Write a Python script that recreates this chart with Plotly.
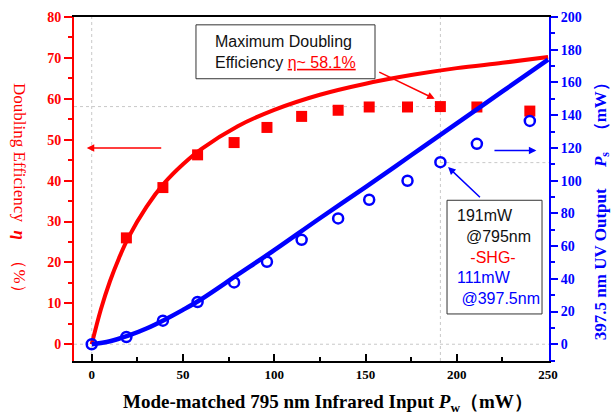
import plotly.graph_objects as go

# ---- data ----
pump_mw = [19, 39, 58, 78, 96, 115, 135, 152, 173, 191, 211, 240]
efficiency_pct = [26, 38.3, 46.3, 49.3, 53, 55.7, 57.2, 58, 58, 58.1, 58, 57]

uv_pump_mw = [0, 19, 39, 58, 78, 96, 115, 135, 152, 173, 191, 211, 240]
uv_output_mw = [0, 4.4, 14.4, 25.8, 37.8, 50.4, 63.8, 76.9, 88.3, 99.9, 111.3, 122.5, 136.5]

eff_fit_x = [0, 5, 10, 15, 20, 30, 40, 50, 60, 80, 100, 125, 150, 175, 200, 225, 250]
eff_fit_y = [0, 8.5, 15.4, 21.1, 26, 33.6, 39.5, 44.0, 47.7, 53.3, 57.3, 61.0, 63.7, 65.8, 67.5, 68.8, 70.2]

uv_fit_x = [0, 10, 20, 30, 40, 50, 60, 80, 100, 125, 150, 175, 200, 225, 250]
uv_fit_y = [0, 1.8, 5.2, 9.6, 15, 21, 27.5, 42.5, 57.5, 77, 96, 115.5, 135, 154.5, 174]

max_pump = 191
max_eff = 58.1
max_uv = 111

x_ticks = [0, 50, 100, 150, 200, 250]
left_ticks = [0, 10, 20, 30, 40, 50, 60, 70, 80]
right_ticks = [0, 20, 40, 60, 80, 100, 120, 140, 160, 180, 200]

RED = "#ff0000"
BLUE = "#0000ff"
SERIF = "Liberation Serif"
SANS = "Liberation Sans"

fig = go.Figure()
fig.add_trace(go.Scatter(x=eff_fit_x, y=eff_fit_y, mode="lines",
                         line=dict(color=RED, width=4, shape="spline"), yaxis="y"))
fig.add_trace(go.Scatter(x=pump_mw, y=efficiency_pct, mode="markers",
                         marker=dict(symbol="square", size=11, color=RED), yaxis="y"))
fig.add_trace(go.Scatter(x=uv_fit_x, y=uv_fit_y, mode="lines",
                         line=dict(color=BLUE, width=4.5, shape="spline"), yaxis="y2"))
fig.add_trace(go.Scatter(x=uv_pump_mw, y=uv_output_mw, mode="markers",
                         marker=dict(symbol="circle-open", size=10, color=BLUE,
                                     line=dict(width=2.5, color=BLUE)), yaxis="y2"))

dot = dict(color="#c8c8c8", width=1, dash="dot")
shapes = [
    dict(type="line", xref="x", yref="paper", x0=0, x1=0, y0=0, y1=1, line=dot, layer="below"),
    dict(type="line", xref="paper", yref="y", x0=0, x1=1, y0=0, y1=0, line=dot, layer="below"),
    dict(type="line", xref="x", yref="paper", x0=max_pump, x1=max_pump, y0=0, y1=1, line=dot, layer="below"),
    dict(type="line", xref="paper", yref="y", x0=0, x1=(max_pump + 9.7) / 260.2, y0=max_eff, y1=max_eff,
         line=dot, layer="below"),
    dict(type="line", xref="x", yref="y2", x0=max_pump, x1=250.5, y0=max_uv, y1=max_uv, line=dot, layer="below"),
    # annotation boxes
    dict(type="rect", xref="paper", yref="paper", x0=0.2568, x1=0.6337, y0=0.8205, y1=0.9772,
         line=dict(color="#333333", width=1), fillcolor="white", layer="above"),
    dict(type="rect", xref="paper", yref="paper", x0=0.7853, x1=0.9853, y0=(361 - 313) / 351, y1=(361 - 197) / 351,
         line=dict(color="#333333", width=1), fillcolor="white", layer="above"),
]

nb = "\u00a0"
annotations = [
    dict(xref="paper", yref="paper", x=0.2926, y=0.8989, xanchor="left", yanchor="middle",
         align="left", showarrow=False,
         text="Maximum Doubling<br>Efficiency <span style='color:#ff0000'><u>η~ 58.1%</u></span>",
         font=dict(family=SANS, size=16, color="#111111")),
    dict(xref="paper", yref="paper", x=0.8021, y=0.3034, xanchor="left", yanchor="middle",
         align="left", showarrow=False,
         text=("191mW<br>" + nb * 2 + "@795nm<br>" + nb * 3 + "<span style='color:#ff0000'>-SHG-</span><br>"
               "<span style='color:#0000ff'>111mW</span><br>"
               "<span style='color:#0000ff'>" + nb + "@397.5nm</span>"),
         font=dict(family=SANS, size=16, color="#111111")),
    # arrows
    dict(xref="x", yref="y", axref="x", ayref="y", x=-2.7, y=48, ax=38.9, ay=48, text="",
         showarrow=True, arrowhead=2, arrowsize=1, arrowwidth=1.5, arrowcolor=RED, standoff=0),
    dict(xref="x", yref="y", axref="x", ayref="y", x=187.9, y=60.0, ax=156.7, ay=66.7, text="",
         showarrow=True, arrowhead=2, arrowsize=1, arrowwidth=1.5, arrowcolor=RED, standoff=0),
    dict(xref="x", yref="y2", axref="x", ayref="y2", x=195.2, y=108.3, ax=213.5, ay=89, text="",
         showarrow=True, arrowhead=2, arrowsize=1, arrowwidth=1.5, arrowcolor=BLUE, standoff=0),
    dict(xref="x", yref="y2", axref="x", ayref="y2", x=243.6, y=118.4, ax=219.8, ay=118.4, text="",
         showarrow=True, arrowhead=2, arrowsize=1, arrowwidth=1.5, arrowcolor=BLUE, standoff=0),
    # axis titles
    dict(xref="paper", yref="paper", x=-0.1158, y=0.4915, xanchor="center", yanchor="middle",
         textangle=90, showarrow=False,
         text="Doubling Efficiency" + nb * 2 + "<b><i>η</i></b>" + nb * 3 + "（%）",
         font=dict(family=SERIF, size=17, color=RED)),
    dict(xref="paper", yref="paper", x=1.1105, y=0.4487, xanchor="center", yanchor="middle",
         textangle=-90, showarrow=False,
         text="397.5" + nb + "nm UV Output" + nb * 5 + "<i>P</i><sub>s</sub>" + nb * 3 + "（mW）",
         font=dict(family=SERIF, size=17, color=BLUE, weight="bold")),
    dict(xref="paper", yref="paper", x=0.5337, y=-0.121, xanchor="center", yanchor="middle",
         showarrow=False,
         text="Mode-matched 795 nm Infrared Input <i>P</i><sub>w</sub>（mW）",
         font=dict(family=SERIF, size=19, color="black", weight="bold")),
]

fig.update_layout(
    width=612, height=415,
    margin=dict(l=74, r=63, t=10, b=54),
    paper_bgcolor="white", plot_bgcolor="white",
    showlegend=False,
    shapes=shapes, annotations=annotations,
    xaxis=dict(range=[-9.7, 250.5], tickvals=x_ticks, ticktext=[str(v) for v in x_ticks],
               showgrid=False, zeroline=False,
               showline=True, linecolor="black", linewidth=2, mirror=True,
               ticks="inside", ticklen=7, tickwidth=2, tickcolor="black",
               minor=dict(dtick=25, tick0=0, ticks="inside", ticklen=4, tickwidth=1.5, tickcolor="black"),
               tickfont=dict(family=SERIF, size=13, color="black", weight="bold")),
    yaxis=dict(range=[-4.1, 80], tickvals=left_ticks, ticktext=[str(v) for v in left_ticks],
               showgrid=False, zeroline=False,
               showline=True, linecolor=RED, linewidth=2,
               ticks="outside", ticklen=8, tickwidth=2, tickcolor=RED,
               minor=dict(dtick=5, tick0=0, ticks="outside", ticklen=4, tickwidth=1.5, tickcolor=RED),
               tickfont=dict(family=SERIF, size=14, color=RED, weight="bold")),
    yaxis2=dict(range=[-10.25, 200], tickvals=right_ticks, ticktext=[str(v) for v in right_ticks],
                overlaying="y", side="right", anchor="x",
                showgrid=False, zeroline=False,
                showline=True, linecolor=BLUE, linewidth=2,
                ticks="outside", ticklen=7, tickwidth=2, tickcolor=BLUE,
                minor=dict(dtick=10, tick0=0, ticks="outside", ticklen=4, tickwidth=1.5, tickcolor=BLUE),
                tickfont=dict(family=SERIF, size=14, color=BLUE, weight="bold")),
)

fig.write_html("out.html", config={"displayModeBar": False},
               post_script="document.body.style.margin='0';document.body.style.overflow='hidden';")
